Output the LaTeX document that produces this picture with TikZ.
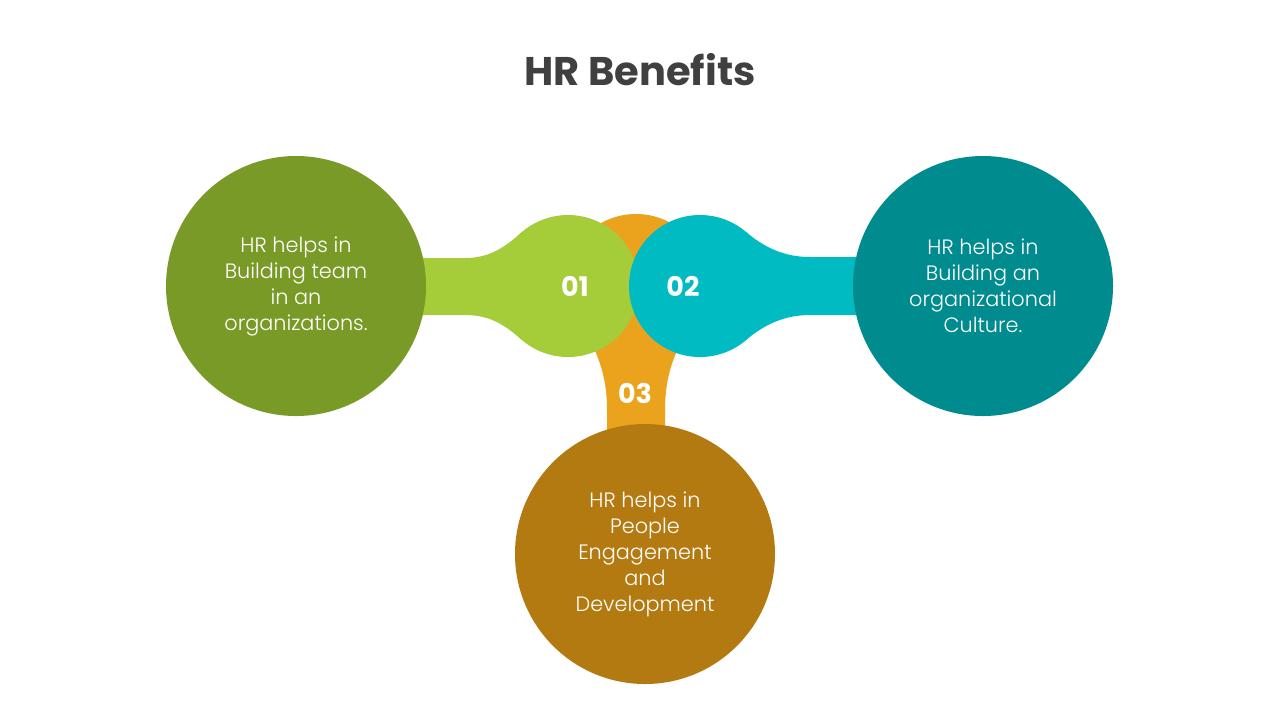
\documentclass[tikz,border=0pt]{standalone}
\usepackage{fontspec}
\setmainfont{Poppins}
\newfontfamily\lightfont{Poppins Light}
\usepackage{xcolor}
\usepackage{tikz}
\usetikzlibrary{positioning}
\definecolor{titlegray}{HTML}{404040}
\definecolor{teamgreen}{HTML}{7A9A28}
\definecolor{limegreen}{HTML}{A4CD39}
\definecolor{stemorange}{HTML}{EBA31E}
\definecolor{brightcyan}{HTML}{00BBC2}
\definecolor{deepteal}{HTML}{008B8E}
\definecolor{ochre}{HTML}{B47A12}
\tikzstyle{bigdisc} = [circle, minimum size=130pt, inner sep=0pt, text=white, align=center, font=\lightfont\fontsize{10.4}{13}\selectfont]
\tikzstyle{smalldisc} = [circle, minimum size=71pt, inner sep=0pt]
\tikzstyle{num} = [text=white, font=\bfseries\fontsize{13.5}{16}\selectfont]
\begin{document}
\begin{tikzpicture}[x=0.5pt, y=-0.5pt]
    \useasboundingbox (0,0) rectangle (1280,720);
    \fill[white] (0,0) rectangle (1280,720);

    \node (title) at (640,70) [text=titlegray, font=\bfseries\fontsize{20}{24}\selectfont] {HR Benefits};

    % orange hub and stem
    \node (dot3) at (636,286) [smalldisc, minimum size=72pt, fill=stemorange] {};
    \fill[stemorange] (607,460) -- (607,410) .. controls (607,380) and (600,360) .. (590,340) -- (682,340) .. controls (672,360) and (665,380) .. (665,410) -- (665,460) -- cycle;
    \node (people) at (645,554) [bigdisc, fill=ochre] {HR helps in\\People\\Engagement\\and\\Development};

    % green arm
    \fill[limegreen] (380,258) -- (465,258) .. controls (490,258) and (505,247) .. (522,232) -- (522,340) .. controls (505,325) and (490,315) .. (465,315) -- (380,315) -- cycle;
    \node (dot1) at (568,286) [smalldisc, fill=limegreen] {};

    % cyan arm
    \fill[brightcyan] (890,257) -- (810,257) .. controls (785,257) and (765,248) .. (746,232) -- (746,340) .. controls (765,324) and (785,315) .. (810,315) -- (890,315) -- cycle;
    \node (dot2) at (700,286) [smalldisc, fill=brightcyan] {};

    \node (team) at (296,286) [bigdisc, fill=teamgreen] {HR helps in\\Building team\\in an\\organizations.};
    \node (culture) at (983,286) [bigdisc, fill=deepteal] {HR helps in\\Building an\\organizational\\Culture.};

    \node (n1) at (575,286) [num] {01};
    \node (n2) at (683,286) [num] {02};
    \node (n3) at (635,393) [num] {03};
\end{tikzpicture}
\end{document}
